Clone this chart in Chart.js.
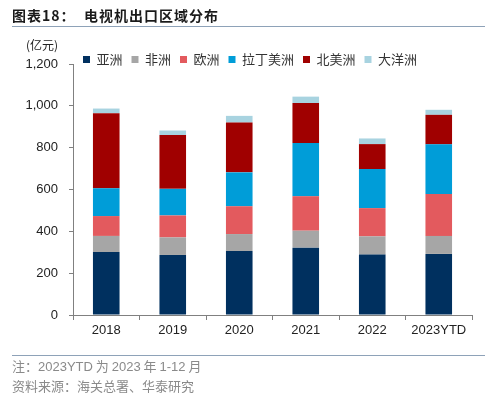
<!DOCTYPE html>
<html>
<head>
<meta charset="utf-8">
<script src="https://cdn.jsdelivr.net/npm/chart.js@4"></script>
<style>
    body { margin: 0; background: #fff; }
    #wrap { position: relative; width: 500px; height: 398px; font-family: "Noto Sans CJK SC", sans-serif; }
    #chart { position: absolute; left: 0; top: 0; }
    .title { position: absolute; left: 12px; top: 5px; font-size: 14px; font-weight: bold; color: #1a1a1a; letter-spacing: 1px; }
    .rule { position: absolute; left: 12px; width: 473px; height: 1px; background: #8ea2b8; }
    .unit { position: absolute; left: 26px; top: 36px; font-size: 12px; color: #222; }
    .note { position: absolute; left: 12px; font-size: 13px; color: #8a8a8a; }
</style>
</head>
<body>
<div id="wrap">
    <canvas id="chart" width="500" height="398"></canvas>
    <div class="title">图表18：&nbsp;&nbsp;电视机出口区域分布</div>
    <div class="rule" style="top:26px"></div>
    <div class="unit">(亿元)</div>
    <div class="rule" style="top:355px"></div>
    <div class="note" style="top:356px">注：<span style="font-family:'Liberation Sans'">2023YTD</span> 为 <span style="font-family:'Liberation Sans'">2023</span> 年 <span style="font-family:'Liberation Sans'">1-12</span> 月</div>
    <div class="note" style="top:376px">资料来源：海关总署、华泰研究</div>
</div>
<script>
const years = ['2018', '2019', '2020', '2021', '2022', '2023YTD'];
const asia = [301, 287, 306, 322, 289, 292];
const africa = [77, 84, 81, 81, 87, 86];
const europe = [95, 105, 133, 165, 135, 201];
const latinAmerica = [133, 127, 162, 254, 187, 237];
const northAmerica = [359, 257, 238, 191, 119, 141];
const oceania = [22, 22, 32, 31, 27, 24];

// legend sits in the empty strip at the top of the plot, centred on the page
const legendShift = {
    id: 'legendShift',
    afterLayout(chart) {
        const lg = chart.legend;
        lg.top = 44;
        lg.bottom = lg.top + lg.height;
        lg.left = 0;
        lg.right = chart.width;
        lg.width = chart.width;
    }
};

const ctx = document.getElementById('chart').getContext('2d');

new Chart(ctx, {
    type: 'bar',
    data: {
        labels: years,
        datasets: [
            { label: '亚洲', data: asia, backgroundColor: '#00305f' },
            { label: '非洲', data: africa, backgroundColor: '#a6a6a6' },
            { label: '欧洲', data: europe, backgroundColor: '#e35a5e' },
            { label: '拉丁美洲', data: latinAmerica, backgroundColor: '#009dd8' },
            { label: '北美洲', data: northAmerica, backgroundColor: '#a00000' },
            { label: '大洋洲', data: oceania, backgroundColor: '#a8d3e0' }
        ]
    },
    options: {
        responsive: false,
        animation: false,
        barPercentage: 0.4,
        categoryPercentage: 1,
        layout: { padding: { left: 0, right: 28, top: 32, bottom: 58 } },
        plugins: {
            legend: {
                position: 'top',
                labels: {
                    boxWidth: 7,
                    boxHeight: 7,
                    padding: 9,
                    color: '#333',
                    font: { size: 13, family: '"Noto Sans CJK SC", sans-serif' }
                }
            },
            tooltip: { enabled: false }
        },
        scales: {
            x: {
                stacked: true,
                afterFit: function (scale) { scale.height = 25; },
                grid: { display: true, drawOnChartArea: false, offset: true, tickLength: 5, color: '#808080' },
                border: { color: '#808080' },
                ticks: {
                    color: '#222',
                    padding: 3,
                    font: { size: 13, family: '"Liberation Sans", Arial, sans-serif' }
                }
            },
            y: {
                stacked: true,
                min: 0,
                max: 1200,
                afterFit: function (scale) { scale.width = 73; },
                grid: { display: true, drawOnChartArea: false, tickLength: 4, color: '#808080' },
                border: { color: '#808080' },
                ticks: {
                    stepSize: 200,
                    color: '#222',
                    padding: 11,
                    font: { size: 13, family: '"Liberation Sans", Arial, sans-serif' },
                    callback: function (value) {
                        return value.toLocaleString('en-US');
                    }
                }
            }
        }
    },
    plugins: [legendShift]
});
</script>
</body>
</html>
